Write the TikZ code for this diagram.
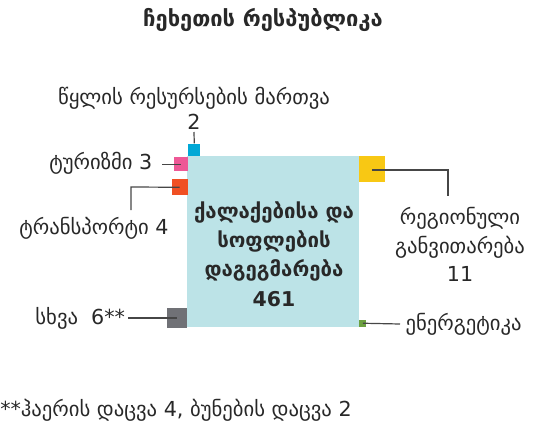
\documentclass[tikz,border=0pt]{standalone}
\usepackage{fontspec}
\setmainfont{DejaVu Sans}
\usepackage{tikz}
\usetikzlibrary{positioning}
\definecolor{planfill}{RGB}{188,227,231}
\definecolor{waterc}{RGB}{0,168,214}
\definecolor{tourc}{RGB}{238,88,150}
\definecolor{transc}{RGB}{240,80,35}
\definecolor{otherc}{RGB}{112,113,118}
\definecolor{regc}{RGB}{248,200,20}
\definecolor{energc}{RGB}{108,160,64}
\definecolor{txtc}{RGB}{40,40,40}
\definecolor{linec}{RGB}{70,70,70}

\begin{document}
\begin{tikzpicture}[x=0.75pt, y=-0.75pt,
  lbl/.style={font=\fontsize{15.5}{19}\selectfont, text=txtc, inner sep=0pt, align=center},
  patch/.style={inner sep=0pt, minimum size=#1},
  link/.style={draw=linec, line width=0.9pt}]
\useasboundingbox (0,0) rectangle (541,424);

\node (title) [font=\bfseries\fontsize{16.4}{19}\selectfont, text=txtc] at (263,20) {ჩეხეთის რესპუბლიკა};

\node (plan) [fill=planfill, anchor=north west, minimum width=129pt, minimum height=128.25pt] at (187,156) {};
\node (plantxt) [font=\bfseries\fontsize{15.3}{22}\selectfont, text=txtc, align=center] at (274,254) {ქალაქებისა და\\სოფლების\\დაგეგმარება\\461};

\node (water) [patch=9pt, fill=waterc, anchor=south west] at (188,156) {};
\node (tourism) [patch=10.5pt, fill=tourc, anchor=north east] at (188,157) {};
\node (transport) [patch=12pt, fill=transc, anchor=north east] at (188,179) {};
\node (other) [patch=15pt, fill=otherc, anchor=south east] at (187,328) {};
\node (regional) [patch=19.5pt, fill=regc, anchor=north west] at (359,156) {};
\node (energy) [patch=5.25pt, fill=energc, anchor=south west] at (359,327) {};

\coordinate (waterend) at (194,132);
\coordinate (tourend) at (162,163);
\coordinate (transbend) at (131,187);
\coordinate (transend) at (131,210);
\coordinate (otherend) at (128,318);
\coordinate (regbend) at (448,170);
\coordinate (regend) at (448,196);
\coordinate (energend) at (400,324);

\node (waternum) [lbl, above=1.5pt of waterend] {2};
\node (watertxt) [lbl, above=3pt of waternum] {წყლის რესურსების მართვა};
\node (tourtxt) [lbl, left=7pt of tourend] {ტურიზმი 3};
\node (transtxt) [lbl, anchor=north] at (94,217) {ტრანსპორტი 4};
\node (othertxt) [lbl, left=2pt of otherend] {სხვა\ \ 6**};
\node (regtxt) [lbl, anchor=north, font=\fontsize{15.5}{21.5}\selectfont] at (460,207) {რეგიონული\\განვითარება\\11};
\node (energtxt) [lbl, right=4pt of energend] {ენერგეტიკა};
\node (note) [lbl, anchor=west] at (0,410) {**ჰაერის დაცვა 4, ბუნების დაცვა 2};

\draw[link] (water.north) -- (waterend);
\draw[link] (tourism.center -| tourend) -- (tourism.center);
\draw[link] (transport.center) -- (transbend) -- (transend);
\draw[link] (other.center |- otherend) -- (otherend);
\draw[link] (regional.center |- regbend) -- (regbend) -- (regend);
\draw[link] (energy.center) -- (energend);
\end{tikzpicture}
\end{document}
